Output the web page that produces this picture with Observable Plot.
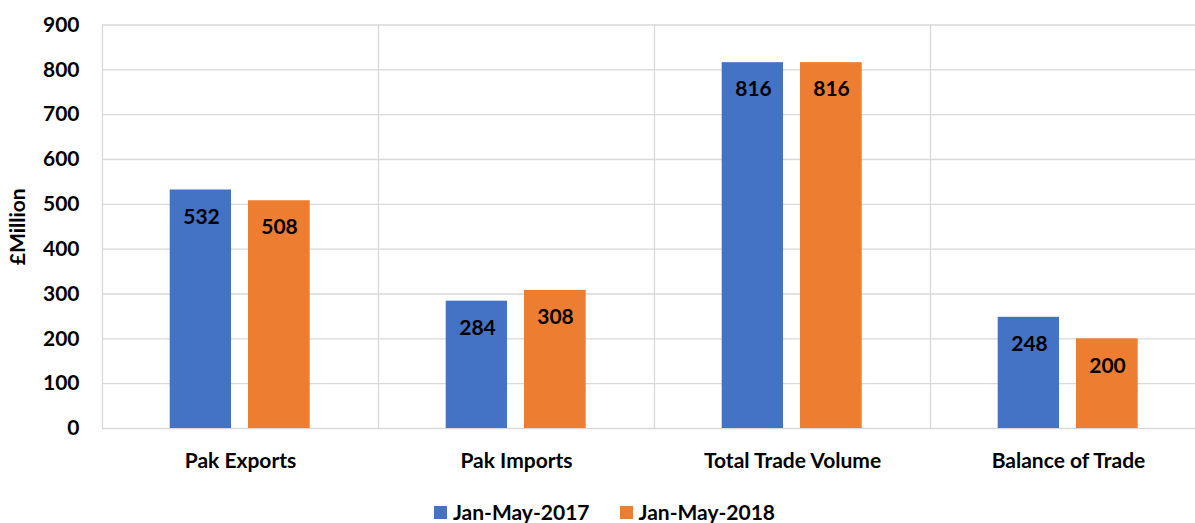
<!DOCTYPE html>
<html><head><meta charset="utf-8">
<script src="https://cdn.jsdelivr.net/npm/d3@7"></script>
<script src="https://cdn.jsdelivr.net/npm/@observablehq/plot@0.6"></script>
<style>
body{margin:0;background:#fff;font-family:Lato,"Open Sans",sans-serif;}
#chart svg{display:block}
#legend{display:flex;justify-content:center;align-items:center;font-weight:bold;font-size:21px;color:#000;height:26px;padding-top:9px;margin-left:14px;line-height:26px}
.item{display:flex;align-items:center;margin:0 15px}
.sw{width:13px;height:13px;margin-right:6px;display:inline-block}
</style></head>
<body>
<div id="chart"></div>
<div id="legend"></div>
<script>
const categories = ["Pak Exports", "Pak Imports", "Total Trade Volume", "Balance of Trade"];
const series = ["Jan-May-2017", "Jan-May-2018"];
const values2017 = [532, 284, 816, 248];
const values2018 = [508, 308, 816, 200];
const yTicks = [0, 100, 200, 300, 400, 500, 600, 700, 800, 900];
const yTitle = "£Million";
const colors = ["#4472c4", "#ed7d31"];

const d17 = categories.map((c, i) => ({cat: c, v: values2017[i]}));
const d18 = categories.map((c, i) => ({cat: c, v: values2018[i]}));
const fam = "Lato, 'Open Sans', sans-serif";
const font = {fontFamily: fam, fontWeight: "bold", fontSize: 21, fill: "#000"};

const chart = Plot.plot({
  width: 1195,
  height: 490,
  marginLeft: 102,
  marginTop: 24.5,
  marginBottom: 62,
  marginRight: 0,
  style: {fontFamily: fam, fontWeight: "bold", fontSize: "21px", color: "#000", background: "#fff", overflow: "hidden"},
  x: {domain: categories, range: [102, 1206], padding: 0},
  y: {domain: [0, 900], ticks: yTicks},
  marks: [
    Plot.ruleY(yTicks, {stroke: "#d9d9d9", strokeWidth: 1.3}),
    Plot.ruleX(categories, {x: d => d, dx: -138, y1: 0, y2: 900, stroke: "#d9d9d9", strokeWidth: 1.3}),
    Plot.barY(d17, {x: "cat", y: "v", fill: colors[0], insetLeft: 67.7, insetRight: 147}),
    Plot.barY(d18, {x: "cat", y: "v", fill: colors[1], insetLeft: 146, insetRight: 68.3}),
    Plot.text(d17, {x: "cat", y: "v", text: d => String(d.v), dx: -39, dy: 27, ...font}),
    Plot.text(d18, {x: "cat", y: "v", text: d => String(d.v), dx: 39, dy: 27, ...font}),
    Plot.axisY({ticks: yTicks, tickSize: 0, tickPadding: 23, label: null, fontWeight: "bold", fontSize: 21}),
    Plot.text([yTitle], {text: d => d, frameAnchor: "left", textAnchor: "middle", dx: -84, rotate: -90, ...font}),
    Plot.axisX({tickSize: 0, tickPadding: 25, label: null, fontWeight: "bold", fontSize: 21})
  ]
});
document.getElementById("chart").appendChild(chart);

const lg = document.getElementById("legend");
series.forEach((s, i) => {
  const it = document.createElement("span");
  it.className = "item";
  const sw = document.createElement("span");
  sw.className = "sw";
  sw.style.background = colors[i];
  it.appendChild(sw);
  it.appendChild(document.createTextNode(s));
  lg.appendChild(it);
});
</script>
</body></html>
